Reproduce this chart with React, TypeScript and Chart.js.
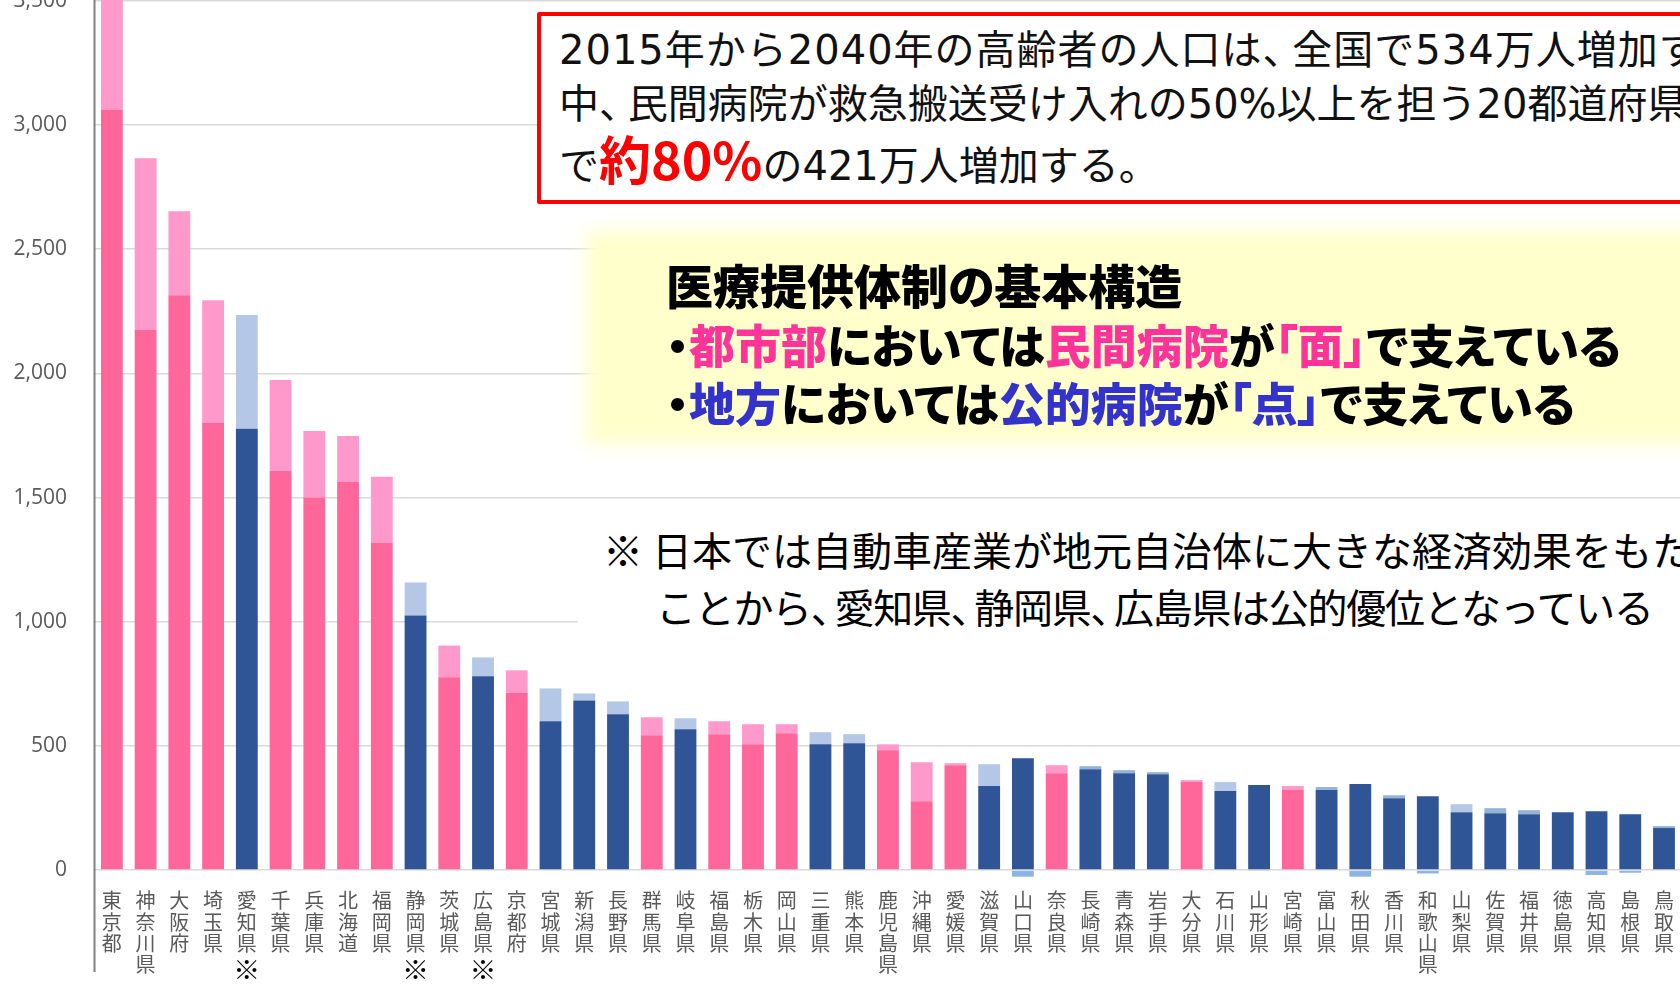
import React, { useEffect, useRef } from 'react';
import { Chart, registerables } from 'chart.js';

Chart.register(...registerables);

// 都道府県 (sorted as in the reference)
const prefectures = [
  '東京都', '神奈川県', '大阪府', '埼玉県', '愛知県', '千葉県', '兵庫県', '北海道', '福岡県', '静岡県',
  '茨城県', '広島県', '京都府', '宮城県', '新潟県', '長野県', '群馬県', '岐阜県', '福島県', '栃木県',
  '岡山県', '三重県', '熊本県', '鹿児島県', '沖縄県', '愛媛県', '滋賀県', '山口県', '奈良県', '長崎県',
  '青森県', '岩手県', '大分県', '石川県', '山形県', '宮崎県', '富山県', '秋田県', '香川県', '和歌山県',
  '山梨県', '佐賀県', '福井県', '徳島県', '高知県', '島根県', '鳥取県',
];

// 高齢者人口 2015年 (千人)
const elderly2015 = [
  3063, 2175, 2315, 1800, 1777, 1608, 1500, 1563, 1318, 1025,
  776, 780, 715, 599, 683, 627, 543, 567, 547, 506,
  551, 506, 510, 482, 277, 422, 338, 450, 390, 406,
  390, 386, 354, 318, 342, 322, 322, 346, 289, 297,
  233, 229, 225, 233, 237, 225, 169,
];

// 2015→2040年の増減 (千人)
const increase2040 = [
  900, 691, 338, 495, 458, 365, 268, 185, 266, 133,
  128, 76, 89, 132, 28, 52, 72, 44, 52, 81,
  36, 49, 37, 24, 157, 8, 88, -27, 32, 12,
  12, 8, 8, 36, -4, 16, 12, -27, 12, -14,
  32, 20, 16, -3, -20, -11, 8,
];

// 民間病院が救急搬送受け入れの50%以上を担う20都道府県
const privateLed = [
  '東京都', '神奈川県', '大阪府', '埼玉県', '千葉県', '兵庫県', '北海道', '福岡県', '茨城県', '京都府',
  '群馬県', '福島県', '栃木県', '岡山県', '鹿児島県', '沖縄県', '愛媛県', '奈良県', '大分県', '宮崎県',
];

const markedPrefs = ['愛知県', '静岡県', '広島県'];

const yMin = 0;
const yMax = 4500;
const yStep = 500;

const CANVAS_TOP = -288;
const CANVAS_H = 1278;
const CANVAS_W = 1694;

export default function App() {
  const ref = useRef<HTMLCanvasElement | null>(null);

  useEffect(() => {
    if (!ref.current) return;
    const isPrivate = prefectures.map((p) => privateLed.includes(p));
    const darkColors = isPrivate.map((p) => (p ? '#FF6699' : '#2F5597'));
    const lightColors = increase2040.map((v, i) => {
      if (isPrivate[i]) return '#FF99CC';
      if (v < 0) return '#8EB4E3';
      if (v < 25) return '#95B3D7';
      return '#B4C7E7';
    });

    const extras = {
      id: 'extras',
      afterDraw(chart: any) {
        const { ctx, chartArea, scales } = chart;
        const xs = scales.x;
        ctx.save();
        ctx.strokeStyle = '#808080';
        ctx.lineWidth = 2;
        ctx.beginPath();
        ctx.moveTo(chartArea.left - 0.5, 0);
        ctx.lineTo(chartArea.left - 0.5, chartArea.bottom + 102);
        ctx.stroke();
        ctx.fillStyle = '#000000';
        ctx.font = 'bold 27px "Noto Sans CJK JP"';
        ctx.textAlign = 'center';
        ctx.textBaseline = 'middle';
        markedPrefs.forEach((p) => {
          const i = prefectures.indexOf(p);
          ctx.fillText('※', xs.getPixelForValue(i), chartArea.bottom + 100);
        });
        ctx.restore();
      },
    };

    const chart = new Chart(ref.current, {
      type: 'bar',
      data: {
        labels: prefectures.map((p) => p.split('')),
        datasets: [
          {
            label: '2015年',
            data: elderly2015,
            backgroundColor: darkColors,
            stack: 's',
            barPercentage: 0.647,
            categoryPercentage: 1,
            clip: false as any,
          },
          {
            label: '増減',
            data: increase2040,
            backgroundColor: lightColors,
            stack: 's',
            barPercentage: 0.647,
            categoryPercentage: 1,
            clip: false as any,
          },
        ],
      },
      plugins: [extras],
      options: {
        animation: false,
        responsive: false,
        devicePixelRatio: 1,
        layout: { padding: { top: 10.4, right: 0, left: 0, bottom: 0 }, autoPadding: false },
        plugins: { legend: { display: false }, tooltip: { enabled: false } },
        scales: {
          x: {
            stacked: true,
            grid: { display: false, drawTicks: false },
            border: { display: false },
            ticks: {
              autoSkip: false,
              maxRotation: 0,
              minRotation: 0,
              padding: 20,
              color: '#595959',
              font: { family: '"Noto Sans CJK JP"', size: 20, lineHeight: 1.065 },
            },
            afterFit: (s: any) => {
              s.height = 120;
            },
          },
          y: {
            stacked: true,
            min: yMin,
            max: yMax,
            grid: { color: '#D9D9D9', lineWidth: 1.5, drawTicks: false },
            border: { display: false },
            ticks: {
              stepSize: yStep,
              padding: 28,
              color: '#595959',
              font: { family: '"Open Sans"', size: 21 },
              callback: (v: any) => Number(v).toLocaleString('en-US'),
            },
            afterFit: (s: any) => {
              s.width = 95;
            },
          },
        },
      },
    });
    return () => chart.destroy();
  }, []);

  const jp = '"Noto Sans CJK JP", sans-serif';
  const jpWide = '"DejaVu Sans", "Noto Sans CJK JP", sans-serif';
  const comma = (k: string) => <span key={k} style={{ letterSpacing: '-0.6em' }}>、</span>;

  return (
    <div style={{ position: 'fixed', left: 0, top: 0, width: 1680, height: 987, overflow: 'hidden', background: '#fff' }}>
      <canvas ref={ref} width={CANVAS_W} height={CANVAS_H} style={{ position: 'absolute', left: 0, top: CANVAS_TOP, width: CANVAS_W, height: CANVAS_H }} />

      {/* red box */}
      <div style={{ position: 'absolute', left: 537, top: 12, width: 1300, height: 192, border: '4px solid #FF0000', background: '#fff', boxSizing: 'border-box', borderRadius: 2 }} />
      <div style={{ position: 'absolute', left: 559, top: 23, fontFamily: jpWide, fontSize: 40, lineHeight: '54px', color: '#111', whiteSpace: 'nowrap' }}>
        <div style={{ letterSpacing: 1 }}>2015年から2040年の高齢者の人口は{comma('a')}&nbsp;全国で534万人増加する</div>
        <div>中{comma('b')}&nbsp;民間病院が救急搬送受け入れの50%以上を担う20都道府県</div>
        <div>
          で<span style={{ color: '#FF0000', fontWeight: 700, fontSize: 52, fontFamily: jp }}>約80%</span>の421万人増加する。
        </div>
      </div>

      {/* yellow glow box */}
      <div style={{ position: 'absolute', left: 586, top: 230, width: 1300, height: 215, background: '#FFFFCC', filter: 'blur(9px)' }} />
      <div style={{ position: 'absolute', left: 666, top: 254, fontFamily: jp, fontSize: 47, fontWeight: 900, lineHeight: '60px', color: '#000', whiteSpace: 'nowrap', fontFeatureSettings: '"palt"' }}>
        医療提供体制の基本構造
      </div>
      <div style={{ position: 'absolute', left: 666, top: 313, fontFamily: jp, fontSize: 46, fontWeight: 900, lineHeight: '60px', color: '#000', whiteSpace: 'nowrap', fontFeatureSettings: '"palt"' }}>
        ・<span style={{ color: '#FF3399' }}>都市部</span>においては<span style={{ color: '#FF3399' }}>民間病院</span>が<span style={{ color: '#FF3399' }}>「面」</span>で支えている
      </div>
      <div style={{ position: 'absolute', left: 666, top: 371, fontFamily: jp, fontSize: 46, fontWeight: 900, lineHeight: '60px', color: '#000', whiteSpace: 'nowrap', fontFeatureSettings: '"palt"' }}>
        ・<span style={{ color: '#3333CC' }}>地方</span>においては<span style={{ color: '#3333CC' }}>公的病院</span>が<span style={{ color: '#3333CC' }}>「点」</span>で支えている
      </div>

      {/* note box */}
      <div style={{ position: 'absolute', left: 578, top: 510, width: 1200, height: 145, background: '#fff' }} />
      <div style={{ position: 'absolute', left: 603, top: 521, fontFamily: jp, fontSize: 40, lineHeight: '57px', color: '#000', whiteSpace: 'nowrap' }}>
        <div>※&nbsp;日本では自動車産業が地元自治体に大きな経済効果をもたらす</div>
        <div style={{ paddingLeft: 53, letterSpacing: -1.3 }}>
          ことから{comma('c')}&nbsp;愛知県{comma('d')}&nbsp;静岡県{comma('e')}&nbsp;広島県は公的優位となっている
        </div>
      </div>
    </div>
  );
}
